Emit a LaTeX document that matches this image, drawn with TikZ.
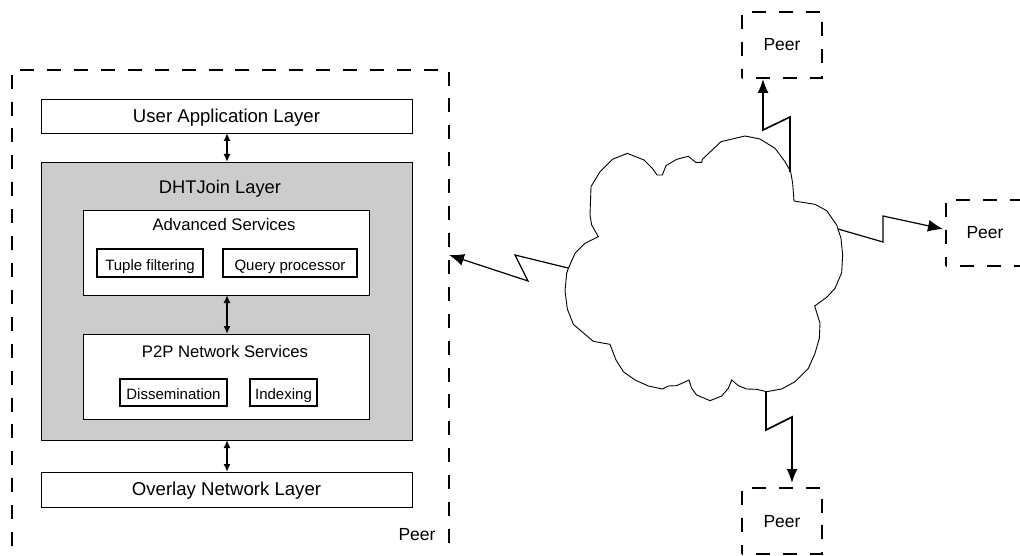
\documentclass[tikz,border=0pt]{standalone}
\usepackage{fontspec}
\setmainfont{Liberation Sans}
\usetikzlibrary{arrows.meta}
\tikzset{
  layer/.style={draw, fill=white, line width=0.9pt, inner sep=0pt, outer sep=0pt, text height=12.5pt, text depth=0pt, font=\fontsize{18.6}{22}\selectfont},
  svc/.style={draw, fill=white, line width=0.9pt, inner sep=0pt, outer sep=0pt},
  mod/.style={draw, fill=white, line width=1.7pt, inner sep=0pt, outer sep=0pt, text height=14.5pt, text depth=0pt, font=\fontsize{15}{18}\selectfont},
  peer/.style={draw, line width=1.7pt, dash pattern=on 14pt off 12.9pt, dash phase=13pt, inner sep=0pt, outer sep=0pt, text height=12pt, text depth=0pt, font=\fontsize{17.5}{21}\selectfont},
  lab/.style={inner sep=0pt, outer sep=0pt},
  link/.style={line width=1.2pt, -{Latex[length=15pt,width=12pt]}},
  linkv/.style={line width=1.6pt, -{Latex[length=14pt,width=11pt]}},
  dbl/.style={line width=1.7pt, {Latex[length=8pt,width=7pt]}-{Latex[length=8pt,width=7pt]}},
}
\begin{document}
\begin{tikzpicture}[x=1pt,y=-1pt]
\clip[use as bounding box] (0,0) rectangle (1020,556);
\node[peer, dash phase=20.1pt, minimum width=437pt, minimum height=500pt] (pmain) at (230.5,320){};
\node[lab, font=\fontsize{17.5}{21}\selectfont] (tmain) at (417,535){Peer};
\node[layer, minimum width=371pt, minimum height=34pt] (user) at (226.5,116){User Application Layer};
\node[layer, fill={rgb,255:red,204;green,204;blue,204}, minimum width=371pt, minimum height=278pt] (dht) at (226.5,301){};
\node[lab, font=\fontsize{18.3}{22}\selectfont] (tdht) at (220,188.5){DHTJoin Layer};
\node[layer, minimum width=371pt, minimum height=35pt] (over) at (226.5,489.5){Overlay Network Layer};
\node[svc, minimum width=286pt, minimum height=85pt] (adv) at (226,252.5){};
\node[lab, font=\fontsize{16.7}{20}\selectfont] (tadv) at (224,225){Advanced Services};
\node[mod, minimum width=106pt, minimum height=28pt] (tuple) at (150,263){Tuple filtering};
\node[mod, minimum width=134pt, minimum height=28pt] (query) at (290,263){Query processor};
\node[svc, minimum width=286pt, minimum height=85pt] (ptp) at (226,376.5){};
\node[lab, font=\fontsize{16.7}{20}\selectfont] (tptp) at (225,351.5){P2P Network Services};
\node[mod, minimum width=107pt, minimum height=27pt] (diss) at (173.5,392.5){Dissemination};
\node[mod, minimum width=67pt, minimum height=27pt] (idx) at (283.5,392.5){Indexing};
\draw[dbl] ([xshift=.5pt]user.south) -- ([xshift=.5pt]dht.north);
\draw[dbl] ([xshift=1pt]adv.south) -- ([xshift=1pt]ptp.north);
\draw[dbl] ([xshift=.5pt]dht.south) -- ([xshift=.5pt]over.north);
\node[peer, minimum width=80pt, minimum height=66pt] (ptop) at (782,45){Peer};
\node[peer, minimum width=80pt, minimum height=66pt] (pright) at (986,233){};
\node[lab, font=\fontsize{17.5}{21}\selectfont] (tright) at (985,233){Peer};
\node[peer, minimum width=80pt, minimum height=66pt] (pbot) at (782,521){Peer};
% cloud
\begin{scope}[shift={(540,90)},scale=1/3]
\draw[line width=0.9pt, fill=white] (85,535) -- (105,490) -- (135,460) -- (175,440) -- (155,405) -- (150,375) -- (153,290) -- (180,245) -- (217,208) -- (262,190) -- (312,210) -- (337,235) -- (351,255) -- (367,255) -- (378,227) -- (410,208) -- (445,199) -- (467,217) -- (485,217) -- (487,208) -- (543,155) -- (615,138) -- (660,147) -- (705,175) -- (735,215) -- (752,245) -- (758,280) -- (762,333) -- (825,343) -- (860,362) -- (890,405) -- (903,445) -- (908,495) -- (905,548) -- (885,595) -- (860,622) -- (824,648) -- (840,700) -- (838,745) -- (825,790) -- (805,835) -- (765,875) -- (725,897) -- (680,905) -- (650,898) -- (620,897) -- (595,887) -- (575,870) -- (565,895) -- (545,918) -- (510,932) -- (470,915) -- (455,895) -- (447,870) -- (410,887) -- (385,888) -- (367,897) -- (325,888) -- (285,870) -- (250,845) -- (228,810) -- (210,763) -- (160,754) -- (100,703) -- (82,657) -- (75,603) -- (80,550) -- cycle;
\end{scope}
\coordinate (cl) at (568,268);
\coordinate (cl1) at (515,255);
\coordinate (cl2) at (528,281);
\coordinate (tl) at (449,255);
\coordinate (ct) at (790,172);
\coordinate (ct1) at (790,117);
\coordinate (ct2) at (763,130);
\coordinate (tt) at (763,79);
\coordinate (cr) at (838,229);
\coordinate (cr1) at (883,242);
\coordinate (cr2) at (883,216);
\coordinate (tr) at (943,229);
\coordinate (cb) at (766,391);
\coordinate (cb1) at (766,430);
\coordinate (cb2) at (792,417);
\coordinate (tb) at (792,483);
\draw[link] (cl) -- (cl1) -- (cl2) -- (tl);
\draw[linkv] (ct) -- (ct1) -- (ct2) -- (tt);
\draw[link] (cr) -- (cr1) -- (cr2) -- (tr);
\draw[linkv] (cb) -- (cb1) -- (cb2) -- (tb);
\end{tikzpicture}
\end{document}
